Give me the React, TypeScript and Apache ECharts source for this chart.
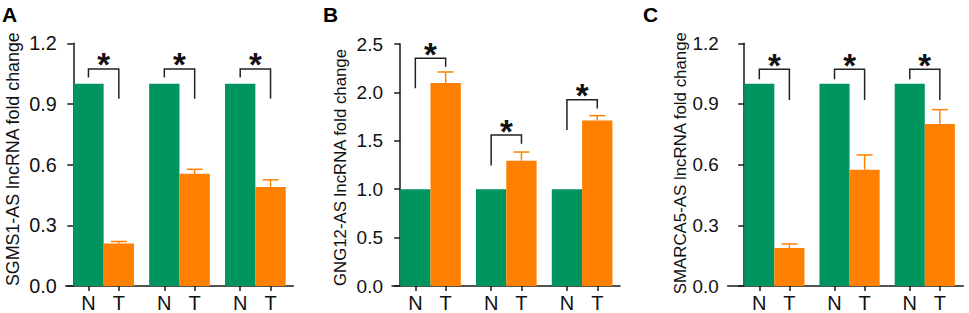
import React, { useEffect, useRef } from "react";
import * as echarts from "echarts";

// ---- data ----
const tickLabels = ["N", "T"];
const panelLetters = ["A", "B", "C"];
const yTitles = [
  "SGMS1-AS lncRNA fold change",
  "GNG12-AS lncRNA fold change",
  "SMARCA5-AS lncRNA fold change",
];
const yMax = [1.2, 2.5, 1.2];
const yStep = [0.3, 0.5, 0.3];

const normalA = [1, 1, 1];
const tumorA = [0.21, 0.555, 0.49];
const tumorErrA = [0.01, 0.022, 0.035];

const normalB = [1, 1, 1];
const tumorB = [2.098, 1.294, 1.71];
const tumorErrB = [0.113, 0.09, 0.05];

const normalC = [1, 1, 1];
const tumorC = [0.188, 0.575, 0.801];
const tumorErrC = [0.02, 0.073, 0.071];

// significance brackets: [N leg bottom, bracket top, T leg bottom]
const bracketA = [
  [1.031, 1.073, 0.926],
  [1.031, 1.073, 0.926],
  [1.031, 1.073, 0.926],
];
const bracketB = [
  [2.043, 2.352, 2.266],
  [1.246, 1.559, 1.47],
  [1.611, 1.923, 1.833],
];
const bracketC = [
  [1.022, 1.072, 0.92],
  [1.022, 1.072, 0.92],
  [1.022, 1.072, 0.92],
];

const normals = [normalA, normalB, normalC];
const tumors = [tumorA, tumorB, tumorC];
const tumorErrs = [tumorErrA, tumorErrB, tumorErrC];
const brackets = [bracketA, bracketB, bracketC];

// ---- layout / style ----
const FONT = "'Liberation Sans', Arial, Helvetica, sans-serif";
const COLORS = ["#00945E", "#FF8000"];
const AXIS_COLOR = "#1a1a1a";
const grids = [
  { left: 65.7, top: 43.3, width: 227.6, height: 243.4 },
  { left: 392, top: 44, width: 228, height: 242.7 },
  { left: 727.7, top: 43.3, width: 235.6, height: 242.7 },
];
const xRanges = [
  [-0.25, 7.25],
  [-0.27, 7.25],
  [-0.55, 7.28],
];
const nameGaps = [44, 43, 30];
const titleSizes = [17.85, 16.8, 16.85];
const tickSizes = [19.8, 19, 18.8];
const titlePadding = [
  [0, 0, 0, 11],
  [0, 5, 0, 0],
  [0, 0, 0, 3],
];
const letterX = [2, 323, 643];
const GROUP_STEP = 2.5;

const centerOf = (g: number, k: number) => g * GROUP_STEP + k + 0.5;

export default function App() {
  const ref = useRef<HTMLDivElement>(null);
  useEffect(() => {
    if (!ref.current) return;
    const chart = echarts.init(ref.current, null, { renderer: "svg" });

    const grid: any[] = [];
    const xAxis: any[] = [];
    const yAxis: any[] = [];
    const series: any[] = [];
    const graphic: any[] = [];

    for (let p = 0; p < 3; p++) {
      grid.push({ ...grids[p], containLabel: false });
      const centers: number[] = [];
      const centerLabels: string[] = [];
      for (let g = 0; g < normals[p].length; g++) {
        for (let k = 0; k < tickLabels.length; k++) {
          centers.push(centerOf(g, k));
          centerLabels.push(tickLabels[k]);
        }
      }
      xAxis.push({
        type: "value",
        gridIndex: p,
        min: xRanges[p][0],
        max: xRanges[p][1],
        splitLine: { show: false },
        axisLine: { show: true, onZero: false, lineStyle: { color: AXIS_COLOR, width: 1.5 } },
        axisTick: {
          show: true,
          length: 5,
          customValues: centers,
          lineStyle: { color: AXIS_COLOR, width: 1.5 },
        },
        axisLabel: {
          show: true,
          customValues: centers,
          margin: 7,
          fontSize: 20,
          fontFamily: FONT,
          color: "#111",
          formatter: (v: number) => {
            let best = 0;
            for (let i = 0; i < centers.length; i++) {
              if (Math.abs(centers[i] - v) < Math.abs(centers[best] - v)) best = i;
            }
            return centerLabels[best];
          },
        },
      });
      yAxis.push({
        type: "value",
        gridIndex: p,
        min: 0,
        max: yMax[p],
        interval: yStep[p],
        splitLine: { show: false },
        axisLine: { show: true, lineStyle: { color: AXIS_COLOR, width: 1.5 } },
        axisTick: { show: true, length: 6, lineStyle: { color: AXIS_COLOR, width: 1.5 } },
        axisLabel: {
          margin: 9,
          fontSize: tickSizes[p],
          fontFamily: FONT,
          color: "#111",
          formatter: (v: number) => v.toFixed(1),
        },
        name: yTitles[p],
        nameLocation: "middle",
        nameGap: nameGaps[p],
        nameTextStyle: {
          fontSize: titleSizes[p],
          fontFamily: FONT,
          color: "#111",
          padding: titlePadding[p],
        },
      });

      const barData: any[] = [];
      for (let g = 0; g < normals[p].length; g++) {
        barData.push([centerOf(g, 0), normals[p][g], 0, 0]);
        barData.push([centerOf(g, 1), tumors[p][g], 1, tumorErrs[p][g]]);
      }
      series.push({
        type: "custom",
        xAxisIndex: p,
        yAxisIndex: p,
        data: barData,
        encode: { x: 0, y: 1 },
        renderItem: (params: any, api: any) => {
          const x = api.value(0);
          const v = api.value(1);
          const k = api.value(2);
          const e = api.value(3);
          const tl = api.coord([x - 0.5, v]);
          const br = api.coord([x + 0.5, 0]);
          const children: any[] = [
            {
              type: "rect",
              shape: { x: tl[0], y: tl[1], width: br[0] - tl[0], height: br[1] - tl[1] },
              style: { fill: COLORS[k] },
            },
          ];
          if (e > 0) {
            const top = api.coord([x, v + e]);
            children.push({
              type: "line",
              shape: { x1: top[0], y1: tl[1], x2: top[0], y2: top[1] },
              style: { stroke: COLORS[k], lineWidth: 1.5 },
            });
            children.push({
              type: "line",
              shape: { x1: top[0] - 8, y1: top[1], x2: top[0] + 8, y2: top[1] },
              style: { stroke: COLORS[k], lineWidth: 1.5 },
            });
          }
          return { type: "group", children };
        },
        z: 2,
      });

      const brData: any[] = brackets[p].map((b, g) => [
        centerOf(g, 0),
        centerOf(g, 1),
        b[0],
        b[1],
        b[2],
      ]);
      series.push({
        type: "custom",
        xAxisIndex: p,
        yAxisIndex: p,
        data: brData,
        encode: { x: [0, 1], y: [2, 3, 4] },
        renderItem: (params: any, api: any) => {
          const nx = api.value(0);
          const tx = api.value(1);
          const lb = api.value(2);
          const top = api.value(3);
          const rb = api.value(4);
          const p1 = api.coord([nx, lb]);
          const p2 = api.coord([nx, top]);
          const p3 = api.coord([tx, top]);
          const p4 = api.coord([tx, rb]);
          return {
            type: "group",
            children: [
              {
                type: "polyline",
                shape: { points: [p1, p2, p3, p4] },
                style: { stroke: "#222", lineWidth: 1.5, fill: "none" },
              },
              {
                type: "text",
                x: (p2[0] + p3[0]) / 2,
                y: p2[1] - 4,
                style: {
                  text: "*",
                  fontSize: 33,
                  fontWeight: "bold",
                  fontFamily: FONT,
                  fill: "#111",
                  align: "center",
                  verticalAlign: "middle",
                },
              },
            ],
          };
        },
        z: 3,
      });

      graphic.push({
        type: "text",
        left: letterX[p],
        top: 4,
        style: {
          text: panelLetters[p],
          fontSize: 21,
          fontWeight: "bold",
          fontFamily: FONT,
          fill: "#000",
        },
      });
    }

    chart.setOption({
      animation: false,
      backgroundColor: "#ffffff",
      grid,
      xAxis,
      yAxis,
      series,
      graphic,
    });
    return () => chart.dispose();
  }, []);

  return (
    <div
      ref={ref}
      style={{ position: "absolute", left: 0, top: 0, width: 969, height: 313 }}
    />
  );
}
